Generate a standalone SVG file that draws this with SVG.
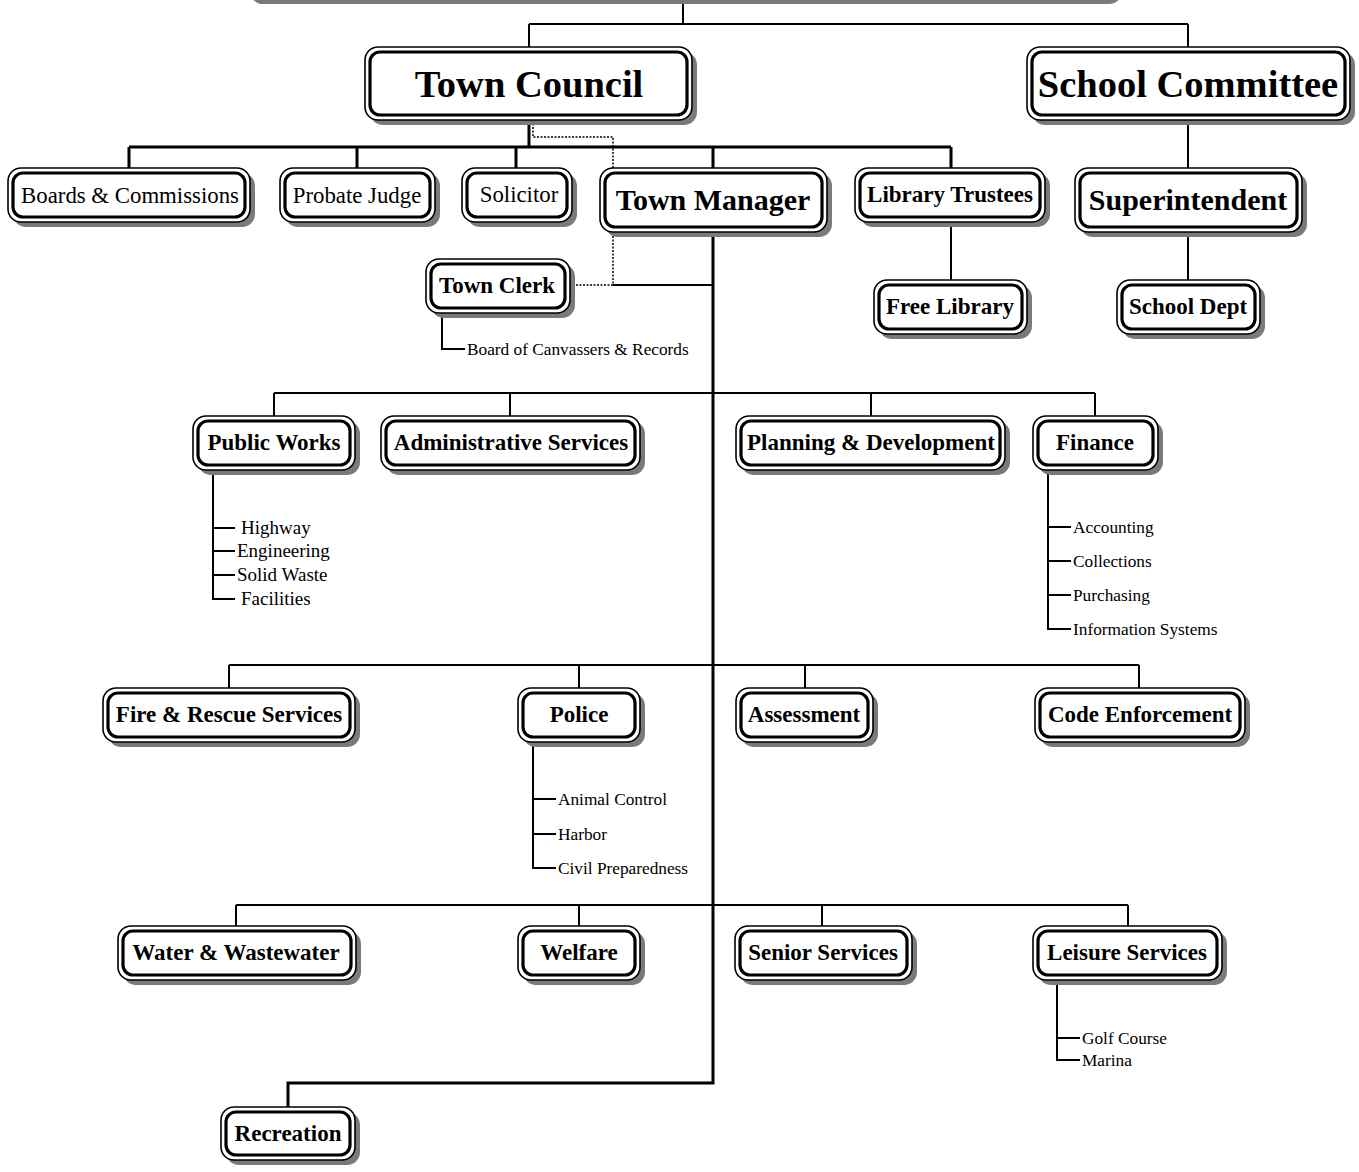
<svg xmlns="http://www.w3.org/2000/svg" width="1359" height="1172" viewBox="0 0 1359 1172">
<style>
.sh{fill:#7a7a7a}
.o{fill:#fff;stroke:#000;stroke-width:1.6}
.i{fill:#fff;stroke:#000;stroke-width:3.2}
.t{font-family:"Liberation Serif","Times New Roman",serif;text-anchor:middle;font-weight:bold;fill:#000;font-size:23px}
.r{font-weight:normal;font-size:22.8px}
.big{font-size:38.5px}
.mid{font-size:30px}
.s{font-family:"Liberation Serif","Times New Roman",serif;font-size:17.3px;fill:#000}
.p{font-size:19px}
.k{fill:none;stroke:#000;stroke-width:3}
.m{fill:none;stroke:#000;stroke-width:2}
.d{fill:none;stroke:#000;stroke-width:1.5;stroke-dasharray:2 1.5}
</style>
<rect width="1359" height="1172" fill="#fff"/>
<g id="connectors">
<path class="m" d="M683 0V24M529 24H1188M529 24V47M1188 24V47"/>
<path class="k" d="M529 120V147M129 147H951M129 147V168M357 147V168M516 147V168M713 147V168M951 147V168"/>
<path class="d" d="M533 120V137H613V285H570"/>
<path class="m" d="M613 285H713"/>
<path class="m" d="M1188 120V168M951 222V280M1188 232V280"/>
<path class="k" d="M713 232V1083H288V1107"/>
<path class="m" d="M442 313V349H465"/>
<path class="m" d="M274 393H1095M274 393V416M510 393V416M871 393V416M1095 393V416"/>
<path class="m" d="M213 470V599H235M213 528H235M213 551H235M213 575H235"/>
<path class="m" d="M1048 470V629H1071M1048 527H1071M1048 561H1071M1048 595H1071"/>
<path class="m" d="M229 665H1139M229 665V688M579 665V688M805 665V688M1139 665V688"/>
<path class="m" d="M533 742V868H556M533 799H556M533 834H556"/>
<path class="m" d="M236 905H1128M236 905V926M579 905V926M822 905V926M1128 905V926"/>
<path class="m" d="M1057 980V1060H1080M1057 1038H1080"/>
</g>
<g id="n-top"><rect class="sh" x="250" y="-60" width="872" height="64" rx="13"/><rect class="o" x="245" y="-66" width="872" height="62" rx="13"/></g>
<g id="n-town-council"><rect class="sh" x="370" y="52" width="327" height="73" rx="13"/><rect class="o" x="365" y="47" width="327" height="73" rx="13"/><rect class="i" x="370" y="52" width="317" height="63" rx="10"/><text class="t big" x="529" y="97">Town Council</text></g>
<g id="n-school-committee"><rect class="sh" x="1032" y="52" width="323" height="73" rx="13"/><rect class="o" x="1027" y="47" width="323" height="73" rx="13"/><rect class="i" x="1032" y="52" width="313" height="63" rx="10"/><text class="t big" x="1188" y="97">School Committee</text></g>
<g id="n-boards"><rect class="sh" x="13" y="173" width="242" height="54" rx="13"/><rect class="o" x="8" y="168" width="242" height="54" rx="13"/><rect class="i" x="13" y="173" width="232" height="44" rx="10"/><text class="t r" x="130" y="203">Boards &amp; Commissions</text></g>
<g id="n-probate"><rect class="sh" x="285" y="173" width="155" height="54" rx="13"/><rect class="o" x="280" y="168" width="155" height="54" rx="13"/><rect class="i" x="285" y="173" width="145" height="44" rx="10"/><text class="t r" x="357" y="203">Probate Judge</text></g>
<g id="n-solicitor"><rect class="sh" x="467" y="173" width="110" height="54" rx="13"/><rect class="o" x="462" y="168" width="110" height="54" rx="13"/><rect class="i" x="467" y="173" width="100" height="44" rx="10"/><text class="t r" x="519" y="202">Solicitor</text></g>
<g id="n-town-manager"><rect class="sh" x="605" y="173" width="227" height="64" rx="13"/><rect class="o" x="600" y="168" width="227" height="64" rx="13"/><rect class="i" x="605" y="173" width="217" height="54" rx="10"/><text class="t mid" x="713" y="210">Town Manager</text></g>
<g id="n-library-trustees"><rect class="sh" x="860" y="173" width="190" height="54" rx="13"/><rect class="o" x="855" y="168" width="190" height="54" rx="13"/><rect class="i" x="860" y="173" width="180" height="44" rx="10"/><text class="t" x="950" y="202">Library Trustees</text></g>
<g id="n-superintendent"><rect class="sh" x="1080" y="173" width="227" height="64" rx="13"/><rect class="o" x="1075" y="168" width="227" height="64" rx="13"/><rect class="i" x="1080" y="173" width="217" height="54" rx="10"/><text class="t mid" x="1188" y="210">Superintendent</text></g>
<g id="n-free-library"><rect class="sh" x="879" y="285" width="153" height="54" rx="13"/><rect class="o" x="874" y="280" width="153" height="54" rx="13"/><rect class="i" x="879" y="285" width="143" height="44" rx="10"/><text class="t" x="950" y="314">Free Library</text></g>
<g id="n-school-dept"><rect class="sh" x="1122" y="285" width="143" height="54" rx="13"/><rect class="o" x="1117" y="280" width="143" height="54" rx="13"/><rect class="i" x="1122" y="285" width="133" height="44" rx="10"/><text class="t" x="1188" y="314">School Dept</text></g>
<g id="n-town-clerk"><rect class="sh" x="431" y="264" width="144" height="54" rx="13"/><rect class="o" x="426" y="259" width="144" height="54" rx="13"/><rect class="i" x="431" y="264" width="134" height="44" rx="10"/><text class="t" x="497" y="293">Town Clerk</text></g>
<text class="s" x="467" y="355">Board of Canvassers &amp; Records</text>
<g id="n-public-works"><rect class="sh" x="198" y="421" width="162" height="54" rx="13"/><rect class="o" x="193" y="416" width="162" height="54" rx="13"/><rect class="i" x="198" y="421" width="152" height="44" rx="10"/><text class="t" x="274" y="450">Public Works</text></g>
<g id="n-admin"><rect class="sh" x="386" y="421" width="259" height="54" rx="13"/><rect class="o" x="381" y="416" width="259" height="54" rx="13"/><rect class="i" x="386" y="421" width="249" height="44" rx="10"/><text class="t" x="511" y="450">Administrative Services</text></g>
<g id="n-planning"><rect class="sh" x="741" y="421" width="269" height="54" rx="13"/><rect class="o" x="736" y="416" width="269" height="54" rx="13"/><rect class="i" x="741" y="421" width="259" height="44" rx="10"/><text class="t" x="871" y="450">Planning &amp; Development</text></g>
<g id="n-finance"><rect class="sh" x="1038" y="421" width="125" height="54" rx="13"/><rect class="o" x="1033" y="416" width="125" height="54" rx="13"/><rect class="i" x="1038" y="421" width="115" height="44" rx="10"/><text class="t" x="1095" y="450">Finance</text></g>
<text class="s p" x="241" y="534">Highway</text>
<text class="s p" x="237" y="557">Engineering</text>
<text class="s p" x="237" y="581">Solid Waste</text>
<text class="s p" x="241" y="605">Facilities</text>
<text class="s" x="1073" y="533">Accounting</text>
<text class="s" x="1073" y="567">Collections</text>
<text class="s" x="1073" y="601">Purchasing</text>
<text class="s" x="1073" y="635">Information Systems</text>
<g id="n-fire"><rect class="sh" x="108" y="693" width="252" height="54" rx="13"/><rect class="o" x="103" y="688" width="252" height="54" rx="13"/><rect class="i" x="108" y="693" width="242" height="44" rx="10"/><text class="t" x="229" y="722">Fire &amp; Rescue Services</text></g>
<g id="n-police"><rect class="sh" x="523" y="693" width="122" height="54" rx="13"/><rect class="o" x="518" y="688" width="122" height="54" rx="13"/><rect class="i" x="523" y="693" width="112" height="44" rx="10"/><text class="t" x="579" y="722">Police</text></g>
<g id="n-assessment"><rect class="sh" x="741" y="693" width="137" height="54" rx="13"/><rect class="o" x="736" y="688" width="137" height="54" rx="13"/><rect class="i" x="741" y="693" width="127" height="44" rx="10"/><text class="t" x="804" y="722">Assessment</text></g>
<g id="n-code"><rect class="sh" x="1040" y="693" width="210" height="54" rx="13"/><rect class="o" x="1035" y="688" width="210" height="54" rx="13"/><rect class="i" x="1040" y="693" width="200" height="44" rx="10"/><text class="t" x="1140" y="722">Code Enforcement</text></g>
<text class="s" x="558" y="805">Animal Control</text>
<text class="s" x="558" y="840">Harbor</text>
<text class="s" x="558" y="874">Civil Preparedness</text>
<g id="n-water"><rect class="sh" x="123" y="931" width="238" height="54" rx="13"/><rect class="o" x="118" y="926" width="238" height="54" rx="13"/><rect class="i" x="123" y="931" width="228" height="44" rx="10"/><text class="t" x="236" y="960">Water &amp; Wastewater</text></g>
<g id="n-welfare"><rect class="sh" x="523" y="931" width="122" height="54" rx="13"/><rect class="o" x="518" y="926" width="122" height="54" rx="13"/><rect class="i" x="523" y="931" width="112" height="44" rx="10"/><text class="t" x="579" y="960">Welfare</text></g>
<g id="n-senior"><rect class="sh" x="740" y="931" width="177" height="54" rx="13"/><rect class="o" x="735" y="926" width="177" height="54" rx="13"/><rect class="i" x="740" y="931" width="167" height="44" rx="10"/><text class="t" x="823" y="960">Senior Services</text></g>
<g id="n-leisure"><rect class="sh" x="1038" y="931" width="189" height="54" rx="13"/><rect class="o" x="1033" y="926" width="189" height="54" rx="13"/><rect class="i" x="1038" y="931" width="179" height="44" rx="10"/><text class="t" x="1127" y="960">Leisure Services</text></g>
<text class="s" x="1082" y="1044">Golf Course</text>
<text class="s" x="1082" y="1066">Marina</text>
<g id="n-recreation"><rect class="sh" x="226" y="1112" width="134" height="53" rx="13"/><rect class="o" x="221" y="1107" width="134" height="53" rx="13"/><rect class="i" x="226" y="1112" width="124" height="43" rx="10"/><text class="t" x="288" y="1141">Recreation</text></g>
</svg>
